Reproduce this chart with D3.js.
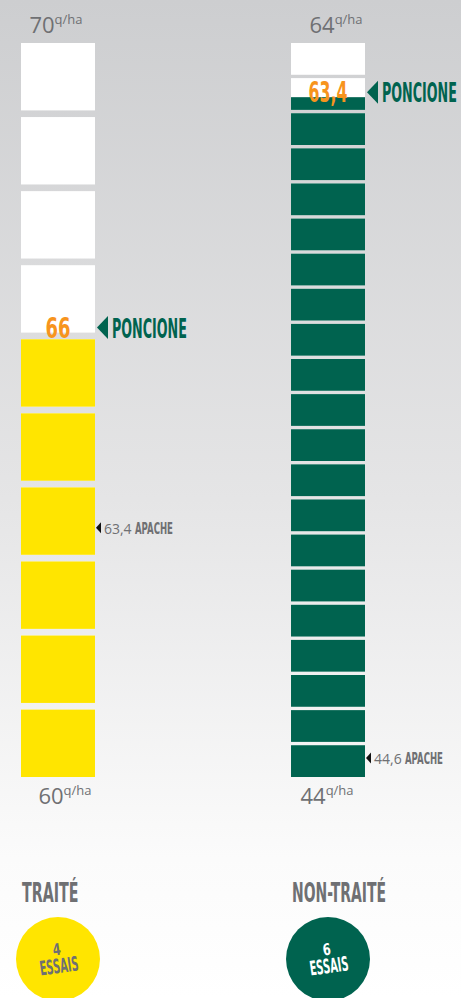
<!DOCTYPE html>
<html>
<head>
<meta charset="utf-8">
<script src="https://cdn.jsdelivr.net/npm/d3@7"></script>
<style>
  html, body { margin: 0; padding: 0; background: #fff; }
  svg { display: block; }
</style>
</head>
<body>
<div id="chart"></div>
<script>
// data
const columns = ["TRAITÉ", "NON-TRAITÉ"];
const scaleMin = [60, 44];
const scaleMax = [70, 65];
const topTicks = ["70", "64"];
const bottomTicks = ["60", "44"];
const poncione = [66, 63.4];
const apache = [63.4, 44.6];
const essais = [4, 6];

const width = 461, height = 998;
const fills = ["#ffe500", "#00634f"];
const grey = "#6f7073";
const orange = "#f7941d";
const green = "#00634f";
const condensed = "'Liberation Sans Narrow', 'DejaVu Sans Condensed', sans-serif";

const fr = d3.formatLocale({decimal: ",", thousands: " ", grouping: [3], currency: ["", " €"]}).format("~f");

const svg = d3.select("#chart")
    .append("svg")
    .attr("width", width)
    .attr("height", height);

// squeeze a condensed label horizontally to a given width
function squeeze(sel, x, y, w) {
    const n = sel.node().getComputedTextLength();
    sel.attr("transform", "translate(" + x + "," + y + ") scale(" + (w / n) + ",1)");
    return sel;
}
function bold(parent, txt, size, fill, anchor) {
    return parent.append("text")
        .attr("fill", fill)
        .attr("text-anchor", anchor || "start")
        .style("font-family", condensed).style("font-weight", "bold")
        .style("font-size", size + "px")
        .text(txt);
}

// background gradient
const grad = svg.append("defs").append("linearGradient")
    .attr("id", "bg").attr("x1", 0).attr("y1", 0).attr("x2", 0).attr("y2", 1);
grad.append("stop").attr("offset", "0%").attr("stop-color", "#cdced0");
grad.append("stop").attr("offset", "50%").attr("stop-color", "#e5e5e6");
grad.append("stop").attr("offset", "86%").attr("stop-color", "#fbfbfb");
grad.append("stop").attr("offset", "100%").attr("stop-color", "#ffffff");
svg.append("rect").attr("width", width).attr("height", height).attr("fill", "url(#bg)");

const x = d3.scaleBand().domain(columns).range([21, 365]).paddingInner(0.726);
const bw = x.bandwidth();
const yTop = 43, yBottom = 777;

columns.forEach(function(col, i) {
    const segs = d3.range(scaleMin[i], scaleMax[i]).reverse();
    const y = d3.scaleBand().domain(segs).range([yTop, yBottom])
        .paddingInner(i == 0 ? 0.09 : 0.095);
    const h = y.bandwidth();
    const valueY = function(v) {
        const s = Math.floor(v);
        return y(s) + h * (1 - (v - s));
    };
    const g = svg.append("g");
    const x0 = x(col), cx = x0 + bw / 2;

    // white segments
    g.selectAll("rect.bg").data(segs).enter().append("rect")
        .attr("x", x0).attr("y", d => y(d))
        .attr("width", bw).attr("height", h)
        .attr("fill", "#ffffff");

    // filled part
    const v = poncione[i];
    g.selectAll("rect.fill").data(segs.filter(d => d < v)).enter().append("rect")
        .attr("x", x0)
        .attr("y", d => d + 1 <= v ? y(d) : valueY(v))
        .attr("width", bw)
        .attr("height", d => d + 1 <= v ? h : y(d) + h - valueY(v))
        .attr("fill", fills[i]);

    // tick labels
    const tt = g.append("text").attr("x", cx + (i == 0 ? -2 : 8)).attr("y", yTop - 10)
        .attr("text-anchor", "middle").attr("fill", grey)
        .style("font-family", "'Open Sans', sans-serif");
    tt.append("tspan").style("font-size", "22px").text(topTicks[i]);
    tt.append("tspan").style("font-size", "13px").attr("dy", -9).text("q/ha");

    const bt = g.append("text").attr("x", cx + (i == 0 ? 7 : -1)).attr("y", yBottom + 27)
        .attr("text-anchor", "middle").attr("fill", grey)
        .style("font-family", "'Open Sans', sans-serif");
    bt.append("tspan").style("font-size", "22px").text(bottomTicks[i]);
    bt.append("tspan").style("font-size", "13px").attr("dy", -9).text("q/ha");

    // poncione label
    const py = valueY(v) + 5;
    const vl = fr(v);
    squeeze(bold(g, vl, 29, orange, "middle"), cx, py, vl.length == 2 ? 25 : 39);
    const ay = py - 10;
    g.append("path")
        .attr("d", d3.line()([[x0 + bw + 2, ay], [x0 + bw + 13, ay - 11.5], [x0 + bw + 13, ay + 11.5]]) + "Z")
        .attr("fill", green);
    squeeze(bold(g, "PONCIONE", 26, green), x0 + bw + 17, py, 75);

    // apache marker
    const my = valueY(apache[i]);
    g.append("path")
        .attr("d", d3.line()([[x0 + bw + 1, my], [x0 + bw + 6, my - 5.5], [x0 + bw + 6, my + 5.5]]) + "Z")
        .attr("fill", "#111");
    g.append("text").attr("x", x0 + bw + 9).attr("y", my + 6)
        .attr("fill", grey)
        .style("font-family", "'Open Sans', sans-serif").style("font-size", "14px")
        .text(fr(apache[i]));
    squeeze(bold(g, "APACHE", 15, grey), x0 + bw + 40, my + 6, 38);

    // footer
    squeeze(bold(g, col, 26, grey), x0 + 1, 902, col.length * 9.4);

    const cy = 959;
    g.append("circle").attr("cx", cx).attr("cy", cy).attr("r", 42).attr("fill", fills[i]);
    const ct = g.append("g").attr("transform", "rotate(-8," + cx + "," + cy + ")");
    const tc = i == 0 ? grey : "#ffffff";
    squeeze(bold(ct, essais[i], 16, tc, "middle"), cx, cy - 4, 8);
    squeeze(bold(ct, "ESSAIS", 20, tc, "middle"), cx, cy + 14, 39);
});
</script>
</body>
</html>
